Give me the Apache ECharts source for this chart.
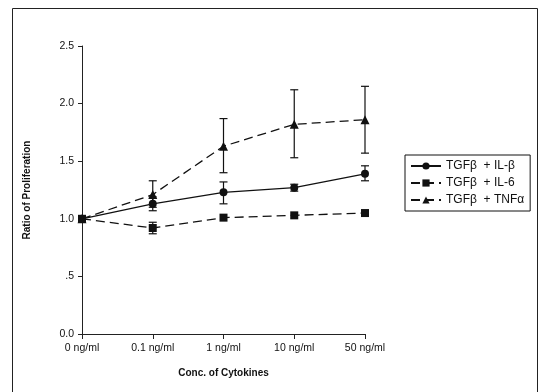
<!DOCTYPE html>
<html>
<head>
<meta charset="utf-8">
<script src="https://cdn.jsdelivr.net/npm/echarts@6/dist/echarts.min.js"></script>
<style>
  html, body { margin: 0; padding: 0; background: #fff; }
  #chart { width: 541px; height: 392px; }
</style>
</head>
<body>
<div id="chart"></div>
<script>
// concentrations on the x axis
var doses = ['0 ng/ml', '0.1 ng/ml', '1 ng/ml', '10 ng/ml', '50 ng/ml'];
var yTicks = [0, 0.5, 1.0, 1.5, 2.0, 2.5];

// means
var il1 = [1.00, 1.13, 1.23, 1.27, 1.39];
var il6 = [1.00, 0.92, 1.01, 1.03, 1.05];
var tnf = [1.00, 1.21, 1.63, 1.82, 1.86];

// error bar ends (null = no bar drawn)
var il1Low  = [null, 1.07, 1.13, 1.24, 1.33];
var il1High = [null, 1.19, 1.32, 1.30, 1.46];
var il6Low  = [null, 0.87, null, null, null];
var il6High = [null, 0.97, null, null, null];
var tnfLow  = [null, 1.10, 1.40, 1.53, 1.57];
var tnfHigh = [null, 1.33, 1.87, 2.12, 2.15];

var names = ['TGF\u03b2  + IL-\u03b2', 'TGF\u03b2  + IL-6', 'TGF\u03b2  + TNF\u03b1'];

function errData(low, high) {
    var out = [];
    for (var i = 0; i < low.length; i++) {
        if (low[i] != null) out.push([i, low[i], high[i]]);
    }
    return out;
}

function renderErr(params, api) {
    var x = api.value(0);
    var lo = api.coord([x, api.value(1)]);
    var hi = api.coord([x, api.value(2)]);
    var w = 4;
    var st = { stroke: '#111', lineWidth: 1.2 };
    return {
        type: 'group',
        children: [
            { type: 'line', shape: { x1: lo[0], y1: lo[1], x2: hi[0], y2: hi[1] }, style: st },
            { type: 'line', shape: { x1: hi[0] - w, y1: hi[1], x2: hi[0] + w, y2: hi[1] }, style: st },
            { type: 'line', shape: { x1: lo[0] - w, y1: lo[1], x2: lo[0] + w, y2: lo[1] }, style: st }
        ]
    };
}

var myChart = echarts.init(document.getElementById('chart'));
var font = 'Liberation Sans, Arial, sans-serif';
var option = {
    animation: false,
    backgroundColor: '#fff',
    textStyle: { fontFamily: font },
    grid: { left: 82, right: 176, top: 46, bottom: 58 },
    graphic: [{
        type: 'rect',
        shape: { x: 12.5, y: 8.5, width: 525, height: 400 },
        style: { fill: null, stroke: '#222', lineWidth: 1 },
        silent: true
    }],
    legend: {
        orient: 'vertical',
        left: 405,
        top: 155,
        data: names,
        itemWidth: 30,
        itemHeight: 9,
        itemGap: 5,
        padding: [5, 6, 5, 5],
        borderColor: '#111',
        borderWidth: 1,
        borderRadius: 0,
        textStyle: { fontFamily: font, fontSize: 12, color: '#111' }
    },
    xAxis: {
        type: 'category',
        data: doses,
        boundaryGap: false,
        name: 'Conc. of Cytokines',
        nameLocation: 'middle',
        nameGap: 34,
        nameTextStyle: { fontFamily: font, fontSize: 10, fontWeight: 'bold', color: '#111' },
        axisLine: { lineStyle: { color: '#222', width: 1 } },
        axisTick: { alignWithLabel: true, length: 5, lineStyle: { color: '#222' } },
        axisLabel: { fontSize: 10.5, color: '#111', margin: 9 },
        splitLine: { show: false }
    },
    yAxis: {
        type: 'value',
        min: yTicks[0],
        max: yTicks[yTicks.length - 1],
        interval: 0.5,
        name: 'Ratio of Proliferation',
        nameLocation: 'middle',
        nameGap: 50,
        nameTextStyle: { fontFamily: font, fontSize: 10, fontWeight: 'bold', color: '#111' },
        axisLine: { show: true, lineStyle: { color: '#222', width: 1 } },
        axisTick: { show: true, length: 4, lineStyle: { color: '#222' } },
        axisLabel: {
            fontSize: 10.5, color: '#111', margin: 8,
            formatter: function (v) {
                if (v === 0.5) return '.5';
                return v.toFixed(1);
            }
        },
        splitLine: { show: false }
    },
    series: [{
        name: names[0],
        type: 'line',
        data: il1,
        symbol: 'circle',
        symbolSize: 8,
        itemStyle: { color: '#111' },
        lineStyle: { color: '#111', width: 1.3, type: 'solid' },
        z: 3
    }, {
        name: names[1],
        type: 'line',
        data: il6,
        symbol: 'rect',
        symbolSize: 8,
        itemStyle: { color: '#111' },
        lineStyle: { color: '#111', width: 1.3, type: [9, 5] },
        z: 3
    }, {
        name: names[2],
        type: 'line',
        data: tnf,
        symbol: 'triangle',
        symbolSize: 9,
        itemStyle: { color: '#111' },
        lineStyle: { color: '#111', width: 1.3, type: [9, 5] },
        z: 3
    }, {
        type: 'custom',
        data: errData(il1Low, il1High),
        renderItem: renderErr,
        z: 2
    }, {
        type: 'custom',
        data: errData(il6Low, il6High),
        renderItem: renderErr,
        z: 2
    }, {
        type: 'custom',
        data: errData(tnfLow, tnfHigh),
        renderItem: renderErr,
        z: 2
    }]
};
myChart.setOption(option);
</script>
</body>
</html>
